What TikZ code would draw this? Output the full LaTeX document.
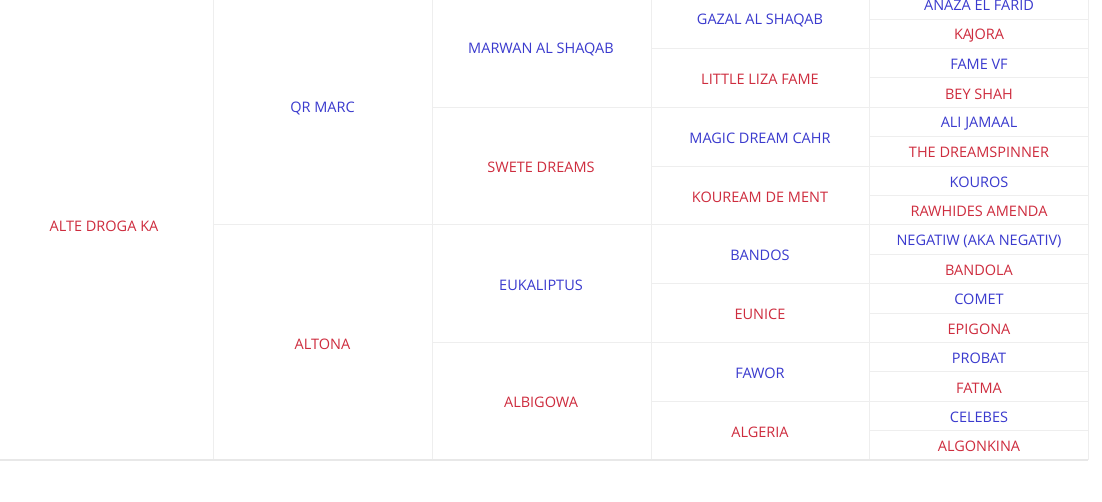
\documentclass[tikz,border=0pt]{standalone}
\usepackage{fontspec}
\setmainfont{Open Sans}
\definecolor{sire}{RGB}{58,58,206}
\definecolor{dam}{RGB}{206,44,62}
\definecolor{rule}{RGB}{238,238,238}
\definecolor{rulebot}{RGB}{232,232,232}
\tikzset{
  horse/.style={inner sep=0pt, font=\fontsize{14.5}{17}\selectfont, anchor=center, yshift=-1.5pt},
  s/.style={horse, text=sire},
  d/.style={horse, text=dam},
  grid/.style={draw=rule, line width=1pt},
  gridbot/.style={draw=rulebot, line width=2pt}
}
\begin{document}
\begin{tikzpicture}[x=1pt,y=-1pt]
\useasboundingbox (0,0) rectangle (1102,501);
\fill[white] (0,0) rectangle (1102,501);
\begin{scope}
\clip (0,0) rectangle (1102,501);
% vertical rules
\foreach \x in {213.5,432,651,869.5,1088}
  \draw[grid] (\x,-12) -- (\x,459.6);
% horizontal rules
\foreach \b in {1,...,15}{
  \pgfmathsetmacro{\yy}{-10.4+29.4*\b}
  \pgfmathtruncatemacro{\mE}{mod(\b,8)}
  \pgfmathtruncatemacro{\mF}{mod(\b,4)}
  \pgfmathtruncatemacro{\mT}{mod(\b,2)}
  \ifnum\mE=0
    \draw[grid] (213.5,\yy) -- (1088,\yy);
  \else\ifnum\mF=0
    \draw[grid] (432,\yy) -- (1088,\yy);
  \else\ifnum\mT=0
    \draw[grid] (651,\yy) -- (1088,\yy);
  \else
    \draw[grid] (869.5,\yy) -- (1088,\yy);
  \fi\fi\fi
}
\draw[gridbot] (0,459.6) -- (1088,459.6);
\end{scope}
% generation 1
\node[d] (g1) at (104,224.8) {ALTE DROGA KA};
% generation 2
\node[s] (g2a) at (322.5,107.2) {QR MARC};
\node[d] (g2b) at (322.5,342.4) {ALTONA};
% generation 3
\node[s] (g3a) at (541,48.4) {MARWAN AL SHAQAB};
\node[d] (g3b) at (541,166) {SWETE DREAMS};
\node[s] (g3c) at (541,283.6) {EUKALIPTUS};
\node[d] (g3d) at (541,401.2) {ALBIGOWA};
% generation 4
\node[s] (g4a) at (760,19) {GAZAL AL SHAQAB};
\node[d] (g4b) at (760,77.8) {LITTLE LIZA FAME};
\node[s] (g4c) at (760,136.6) {MAGIC DREAM CAHR};
\node[d] (g4d) at (760,195.4) {KOUREAM DE MENT};
\node[s] (g4e) at (760,254.2) {BANDOS};
\node[d] (g4f) at (760,313) {EUNICE};
\node[s] (g4g) at (760,371.8) {FAWOR};
\node[d] (g4h) at (760,430.6) {ALGERIA};
% generation 5
\node[s] (g5a) at (979,4.3) {ANAZA EL FARID};
\node[d] (g5b) at (979,33.7) {KA\kern-1.5pt JORA};
\node[s] (g5c) at (979,63.1) {FAME VF};
\node[d] (g5d) at (979,92.5) {BEY SHAH};
\node[s] (g5e) at (979,121.9) {ALI JAMAAL};
\node[d] (g5f) at (979,151.3) {THE DREAMSPINNER};
\node[s] (g5g) at (979,180.7) {KOUROS};
\node[d] (g5h) at (979,210.1) {RAWHIDES AMENDA};
\node[s] (g5i) at (979,239.5) {NEGATIW (AKA NEGATIV)};
\node[d] (g5j) at (979,268.9) {BANDOLA};
\node[s] (g5k) at (979,298.3) {COMET};
\node[d] (g5l) at (979,327.7) {EPIGONA};
\node[s] (g5m) at (979,357.1) {PROBAT};
\node[d] (g5n) at (979,386.5) {FATMA};
\node[s] (g5o) at (979,415.9) {CELEBES};
\node[d] (g5p) at (979,445.3) {ALGONKINA};
\end{tikzpicture}
\end{document}
